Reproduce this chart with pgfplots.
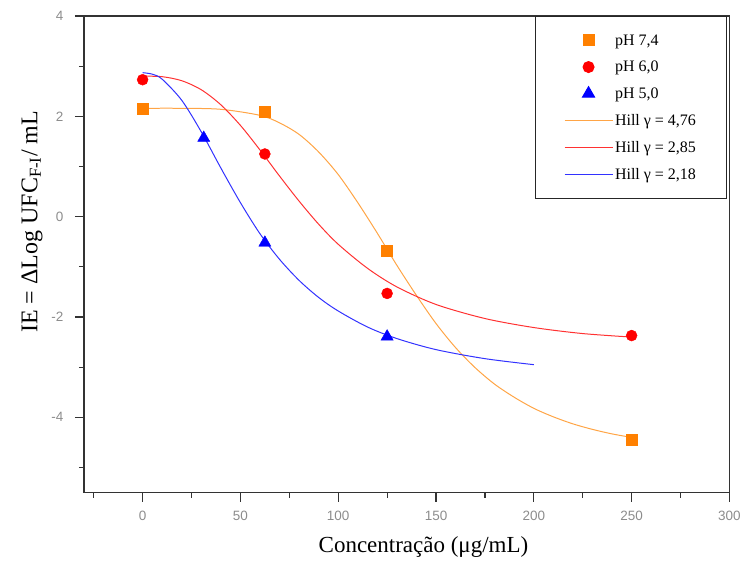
\documentclass[border=0pt]{standalone}
\usepackage{fontspec}
\setmainfont{Liberation Serif}
\newfontfamily\ticksans{Liberation Sans}
\usepackage{pgfplots}
\pgfplotsset{compat=1.18}
\definecolor{cmark}{RGB}{255,128,0}
\definecolor{cline}{RGB}{255,165,70}
\definecolor{rline}{RGB}{255,50,50}
\definecolor{bline}{RGB}{50,50,255}
\pgfplotsset{
  markleg/.style={legend image code/.code={\draw[mark repeat=2,mark phase=2,##1] plot coordinates {(0pt,0pt)(24pt,0pt)(48pt,0pt)};}},
  lineleg/.style={legend image code/.code={\draw[##1] (0pt,0pt) -- (48pt,0pt);}},
}

\begin{document}
\begin{tikzpicture}
\begin{axis}[
  scale only axis,
  width=646pt, height=477pt,
  xmin=-30, xmax=300, ymin=-5.5, ymax=4,
  xtick={0,50,...,300}, xticklabels={0,50,100,150,200,250,300},
  ytick={-4,-2,0,2,4}, yticklabels={-4,-2,0,2,4},
  minor xtick={-25,25,...,275}, minor ytick={-5,-3,...,3},
  tick align=outside, xtick pos=bottom, ytick pos=left,
  major tick length=9pt, minor tick length=5pt,
  axis line style={line width=1.2pt, black!80},
  every tick/.style={line width=1.2pt, black!80},
  tick label style={font=\ticksans\fontsize{13.5}{15}\selectfont, text=black!45},
  xticklabel style={yshift=-6pt},
  yticklabel style={xshift=-8pt},
  label style={font=\fontsize{23}{27}\selectfont},
  xlabel={Concentração (μg/mL)},
  xlabel style={at={(axis description cs:0.526,0)}, anchor=north, yshift=-40pt},
  ylabel={IE = ΔLog UFC\textsubscript{F-I}/ mL},
  ylabel style={at={(axis description cs:-0.0588,0.568)}, anchor=south,
    font=\fontsize{24}{28}\selectfont},
  legend style={at={(1,1)}, anchor=north east, xshift=-2pt,
    draw=black!85, line width=1pt, font=\fontsize{16}{18}\selectfont,
    inner xsep=29pt, inner ysep=16pt, row sep=10.5pt},
  legend cell align=left,
]
% Hill fits
\addplot[cline, line width=1pt, smooth, forget plot] coordinates {
  (0,2.16)(20,2.16)(40,2.14)(60,2.02)(70,1.87)(80,1.64)(90,1.29)(100,0.84)(110,0.28)
  (120,-0.33)(130,-0.97)(140,-1.57)(150,-2.13)(160,-2.61)(170,-3.01)(180,-3.34)
  (190,-3.60)(200,-3.82)(210,-3.99)(220,-4.13)(230,-4.24)(240,-4.33)(250,-4.40)};
\addplot[rline, line width=1pt, smooth, forget plot] coordinates {
  (0,2.80)(10,2.79)(20,2.71)(30,2.53)(40,2.23)(50,1.82)(60,1.33)(70,0.81)(80,0.31)
  (90,-0.15)(100,-0.55)(115,-1.03)(130,-1.40)(150,-1.75)(175,-2.03)(200,-2.21)
  (225,-2.33)(250,-2.40)};
\addplot[bline, line width=1pt, smooth, forget plot] coordinates {
  (0,2.87)(5,2.84)(10,2.74)(20,2.32)(30,1.69)(40,0.97)(50,0.28)(60,-0.34)(70,-0.85)
  (80,-1.27)(90,-1.61)(100,-1.88)(115,-2.20)(130,-2.43)(150,-2.65)(175,-2.83)(200,-2.95)};
% data
\addplot[only marks, mark=square*, mark size=5.5pt, color=cmark, markleg]
  coordinates {(0,2.15)(62.5,2.09)(125,-0.67)(250,-4.44)};
\addlegendentry{pH 7,4}
\addplot[only marks, mark=*, mark size=5.5pt, color=red, markleg]
  coordinates {(0,2.73)(62.5,1.25)(125,-1.53)(250,-2.37)};
\addlegendentry{pH 6,0}
\addplot[only marks, mark=triangle*, mark size=7pt, color=blue, markleg]
  coordinates {(31.25,1.57)(62.5,-0.52)(125,-2.39)};
\addlegendentry{pH 5,0}
\addlegendimage{cline, line width=1pt, lineleg}
\addlegendentry{Hill γ = 4,76}
\addlegendimage{rline, line width=1pt, lineleg}
\addlegendentry{Hill γ = 2,85}
\addlegendimage{bline, line width=1pt, lineleg}
\addlegendentry{Hill γ = 2,18}
\end{axis}
\path (-84pt,-79pt) rectangle (660pt,493pt);
\end{tikzpicture}
\end{document}
